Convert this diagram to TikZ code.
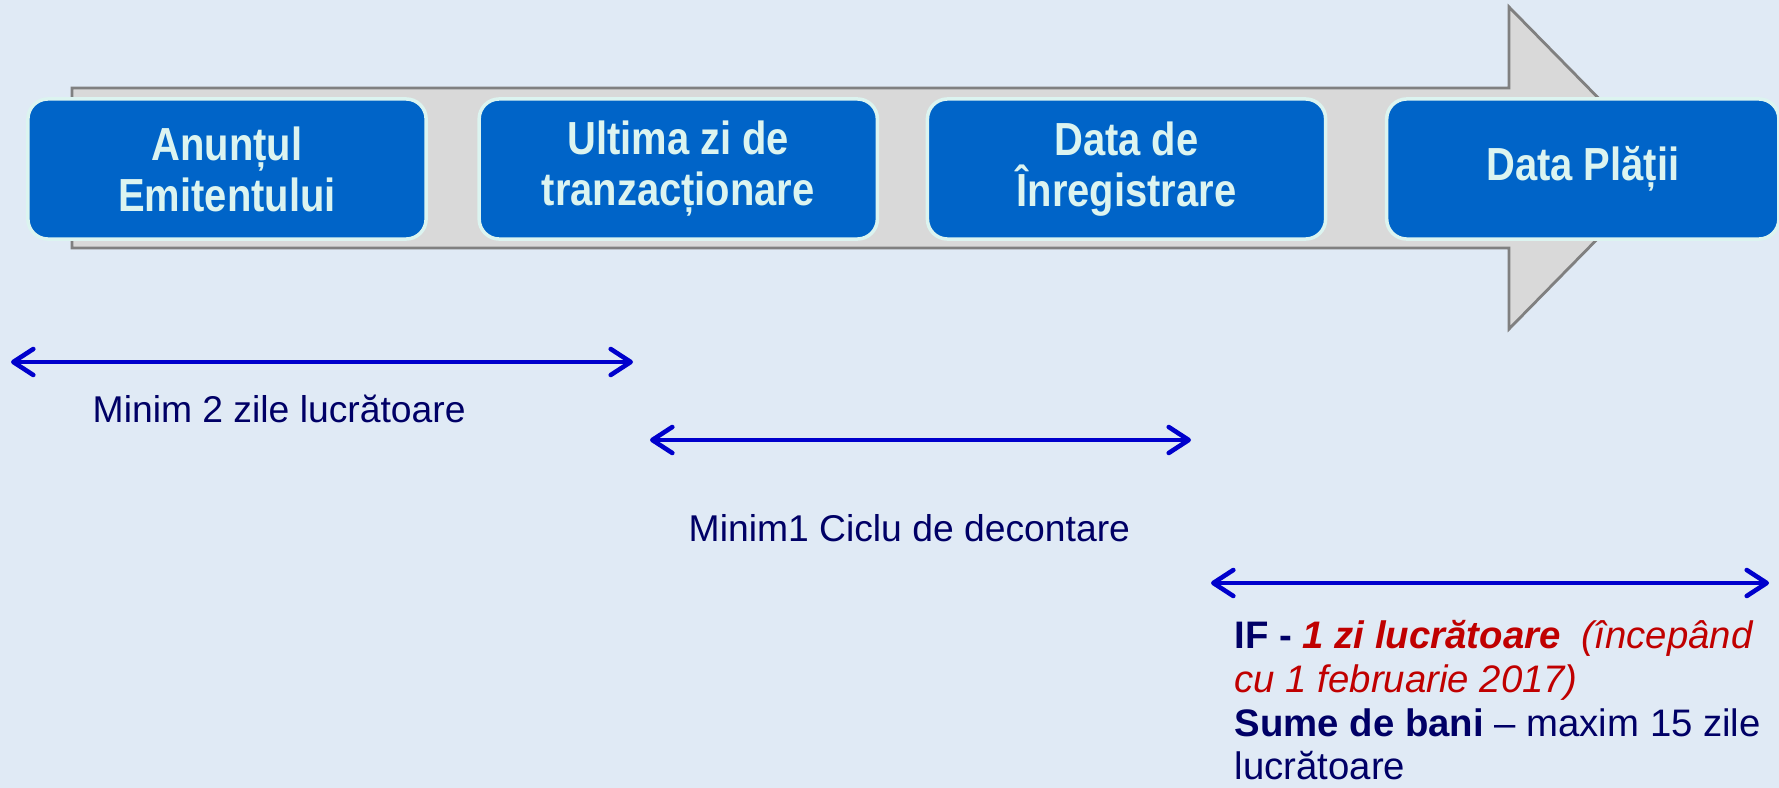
\documentclass[tikz,border=0pt]{standalone}
\usepackage{fontspec}
\setmainfont{Liberation Sans}
\newfontfamily\stagefont[FakeStretch=0.86]{Liberation Sans}
\usepackage{tikz}
\usetikzlibrary{arrows.meta}
\definecolor{bgblue}{RGB}{224,234,245}
\definecolor{stageblue}{RGB}{0,100,200}
\definecolor{stageedge}{RGB}{220,244,240}
\definecolor{shaftgray}{RGB}{217,217,217}
\definecolor{shaftedge}{RGB}{128,128,128}
\definecolor{spanblue}{RGB}{0,0,204}
\definecolor{notenavy}{RGB}{0,0,102}
\definecolor{notered}{RGB}{192,0,0}
\tikzstyle{stage} =
        [
                rectangle,
                draw = stageedge,
                line width = 1pt,
                fill = stageblue,
                text = stageedge,
                align = center,
                rounded corners = 0.2cm,
                minimum width = 3.98cm,
                minimum height = 1.40cm,
                font = \stagefont\bfseries\fontsize{13.2}{14.5}\selectfont
        ]
\tikzstyle{span} =
        [
                draw = spanblue,
                line width = 1.3pt,
                >={Straight Barb[round, length = 0.2cm, width = 0.26cm]},
                <->
        ]
\tikzstyle{note} =
        [
                inner sep = 0pt,
                text = notenavy,
                align = left,
                font = \fontsize{10.6}{12.5}\selectfont
        ]
\tikzstyle{arrowbody} =
        [
                fill = shaftgray,
                draw = shaftedge,
                line width = 0.8pt
        ]
\begin{document}
\begin{tikzpicture}[x = 0.01cm, y = -0.01cm]
	        \fill [bgblue] (0,0) rectangle (1779,788);
	        \useasboundingbox (0,0) rectangle (1779,788);
	        % sageata mare din fundal
	        \path [arrowbody] (72,88) -- (1509,88) -- (1509,7) -- (1667,168) -- (1509,329) -- (1509,248) -- (72,248) -- cycle;
	        \node [stage] (anunt) at (227,169) {Anunțul\\Emitentului};
	        \node [stage, right of = anunt, node distance = 4.51cm] (ultima) {Ultima zi de\\tranzacționare};
	        \node [stage, right of = ultima, node distance = 4.48cm] (inreg) {Data de\\Înregistrare};
	        \node [stage, right of = inreg, node distance = 4.56cm, minimum width = 3.92cm] (plata) {Data Plății};
	        % intervale
	        \coordinate (s1a) at (11,362);
	        \coordinate (s1b) at (633,362);
	        \coordinate (s2a) at (650,440);
	        \coordinate (s2b) at (1191,440);
	        \coordinate (s3a) at (1211,583);
	        \coordinate (s3b) at (1769,583);
	        \path [span] (s1a) -- (s1b);
	        \path [span] (s2a) -- (s2b);
	        \path [span] (s3a) -- (s3b);
	        \node [note, anchor = base west] (minim2) at (92,422) {Minim 2 zile lucrătoare};
	        \node [note, anchor = base west] (minim1) at (688,541) {Minim1 Ciclu de decontare};
	        \node [note, anchor = north west, font = \fontsize{10.9}{12.4}\selectfont] (sume) at (1234,620) {\textbf{IF -} \textcolor{notered}{\textbf{\textit{1 zi lucrătoare}}\ \ \textit{(începând}}\\
	        \textcolor{notered}{\textit{cu 1 februarie 2017)}}\\
	        \textbf{Sume de bani} – maxim 15 zile\\
	        lucrătoare};
		\end{tikzpicture}
\end{document}
